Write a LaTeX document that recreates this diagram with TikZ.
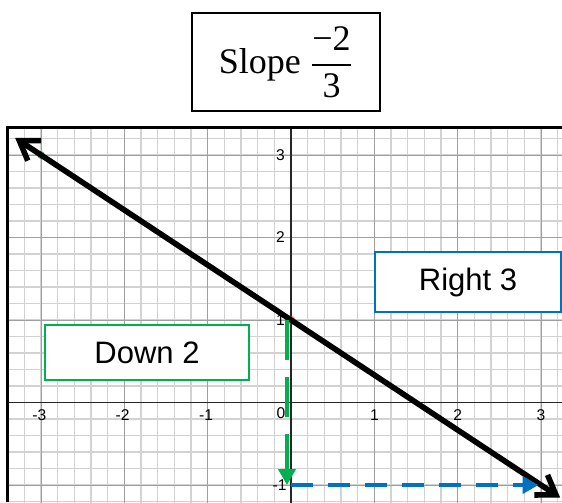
\documentclass[tikz,border=0pt]{standalone}
\usepackage{amsmath}
\usepackage{fontspec}
\setmainfont{Liberation Sans}
\newfontfamily\slopefont{Liberation Serif}
\usetikzlibrary{arrows.meta, positioning}
\definecolor{stepgreen}{RGB}{0,176,80}
\definecolor{stepblue}{RGB}{0,112,192}

\begin{document}
\begin{tikzpicture}[x=41.667pt, y=41.25pt,
        tick/.style={font=\fontsize{7.8}{9}\selectfont, inner sep=0pt},
        labelbox/.style={draw, line width=1pt, fill=white, inner sep=0pt,
            font=\fontsize{15.5}{18}\selectfont},
        runarrow/.style={line width=2pt, -{Triangle[length=8pt, width=8.5pt]}},
        slopeline/.style={line width=2.8pt,
            {Straight Barb[length=9pt, width=12pt]}-{Straight Barb[length=9pt, width=12pt]}}
    ]
        \useasboundingbox (-3.492,-1.206) rectangle (3.252,4.879);

        % grid and axes
        \begin{scope}
            \clip (-3.396,-1.206) rectangle (3.252,3.339);
            \draw[gray!35, line width=0.7pt, step=0.2] (-3.6,-1.4) grid (3.4,3.4);
            \draw[gray!75, line width=0.4pt, step=1] (-3.6,-1.4) grid (3.4,3.4);
            \draw[black!85, line width=0.8pt] (-3.6,0) -- (3.4,0);
            \draw[black!85, line width=0.8pt] (0,-1.4) -- (0,3.4);
        \end{scope}
        \draw[line width=1.5pt] (-3.396,-1.206) -- (-3.396,3.339) -- (3.252,3.339);

        % tick labels
        \node[tick] (xm3) at (-3.02,-0.152) {-3};
        \node[tick] (xm2) at (-2.02,-0.152) {-2};
        \node[tick] (xm1) at (-1.02,-0.152) {-1};
        \node[tick] (x0) at (-0.12,-0.13) {0};
        \node[tick] (x1) at (1,-0.152) {1};
        \node[tick] (x2) at (2,-0.152) {2};
        \node[tick] (x3) at (3,-0.152) {3};
        \node[tick, anchor=east] (y3) at (-0.07,3) {3};
        \node[tick, anchor=east] (y2) at (-0.07,2) {2};
        \node[tick, anchor=east] (y1) at (-0.07,1) {1};
        \node[tick, anchor=east] (ym1) at (-0.05,-1) {-1};

        % points
        \coordinate (start) at (0,1);
        \coordinate (down) at (-0.048,1);
        \coordinate (corner) at (-0.048,-1);
        \coordinate (left) at (0,-1);
        \coordinate (right) at (2.97,-1);
        \coordinate (tipa) at (-3.31,3.207);
        \coordinate (tipb) at (3.23,-1.153);
        \fill[stepgreen, opacity=0.6] (-3,3) circle (2pt);
        \fill[red!70, opacity=0.6] (start) circle (2.2pt);

        % slope line and steps
        \draw[slopeline] (tipa) -- (tipb);
        \draw[runarrow, stepgreen, dash pattern=on 20pt off 8.5pt] (down) -- (corner);
        \draw[runarrow, stepblue, dash pattern=on 11pt off 7.5pt] (left) -- (right);

        % labels
        \node[draw, line width=0.6pt, minimum width=94pt, minimum height=49pt,
            font=\fontsize{18}{20}\selectfont] (slope) at (-0.06,4.127)
            {\slopefont Slope $\dfrac{\text{\slopefont −2}}{\text{\slopefont 3}}$};
        \node[labelbox, draw=stepblue, minimum width=93pt, minimum height=30pt] (right3)
            at (2.124,1.461) {Right 3};
        \node[labelbox, draw=stepgreen, minimum width=102pt, minimum height=27.5pt] (down2)
            at (-1.728,0.606) {Down 2};
    \end{tikzpicture}
\end{document}
